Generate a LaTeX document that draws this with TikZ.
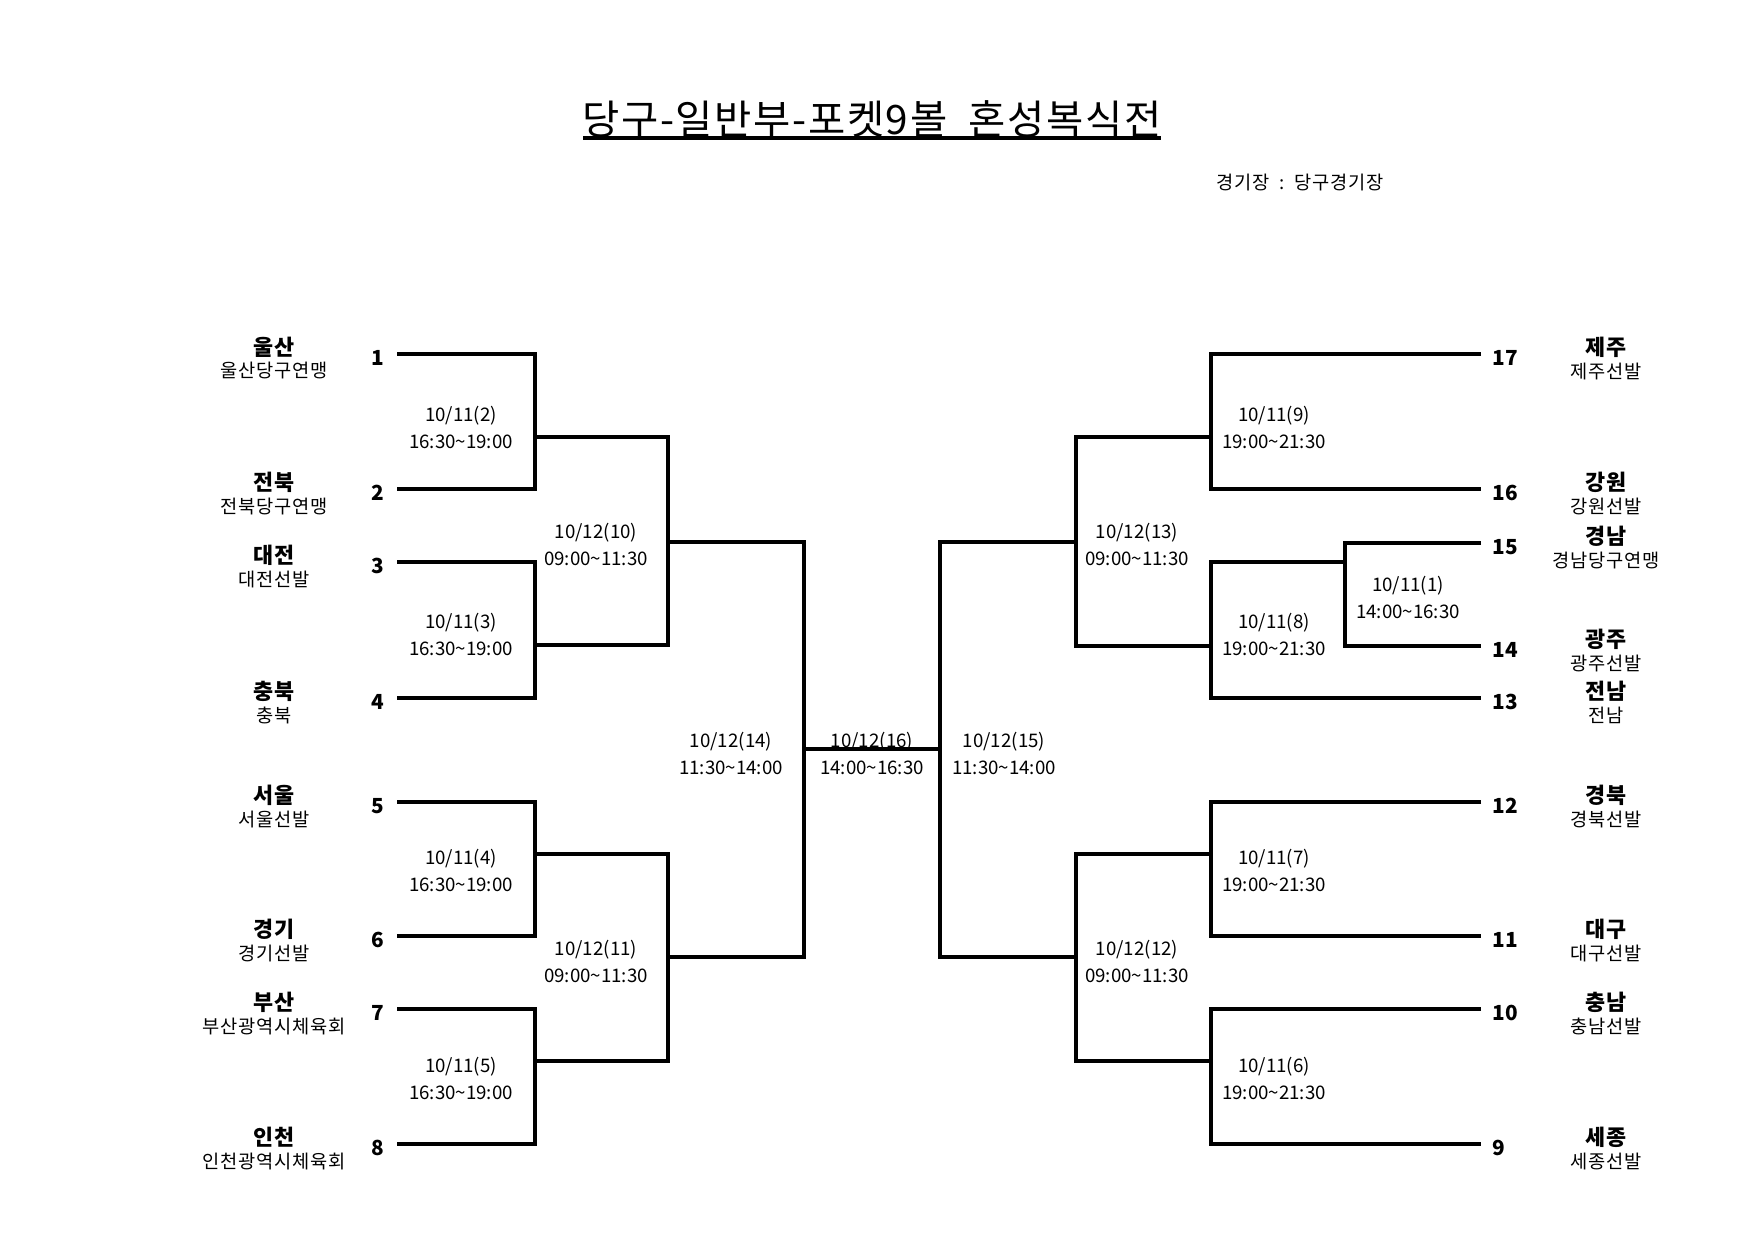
\documentclass[tikz,border=0pt]{standalone}
\usepackage{fontspec}
\setmainfont{Noto Sans CJK KR}
\newfontfamily\widefont[LetterSpace=4]{Noto Sans CJK KR}
\newcommand{\til}{\textasciitilde}

\begin{document}
\begin{tikzpicture}[x=0.16923mm,y=-0.16923mm,
  bar/.style={line width=2.1pt},
  team/.style={font=\fontsize{10.5}{12}\selectfont\bfseries},
  club/.style={font=\widefont\fontsize{9}{11}\selectfont},
  seed/.style={font=\fontsize{10}{12}\selectfont\bfseries,inner sep=0pt},
  game/.style={font=\fontsize{9}{13}\selectfont,align=center}]
  \useasboundingbox (0,0) rectangle (1755,1240);

  \node[font=\widefont\fontsize{19.5}{21}\selectfont] (title) at (872,119) {당구-일반부-포켓9볼\ \ 혼성복식전};
  \draw[line width=2pt] (583,138) -- (1161,138);
  \node[anchor=west,font=\widefont\fontsize{9}{11}\selectfont] (venue) at (1209,183) {경기장\ \ :\ \ 당구경기장};

  \foreach \n/\y/\nm/\cl in {
    1/354/울산/울산당구연맹,
    2/489/전북/전북당구연맹,
    3/562/대전/대전선발,
    4/698/충북/충북,
    5/802/서울/서울선발,
    6/936/경기/경기선발,
    7/1009/부산/부산광역시체육회,
    8/1144/인천/인천광역시체육회}
  {
    \coordinate (e\n) at (397,\y);
    \node[seed,anchor=east] (s\n) at (385,\y+4) {\n};
    \node[team] (t\n) at (274,\y-7) {\nm};
    \node[club] (c\n) at (274,\y+17) {\cl};
  }

  \foreach \n/\y/\nm/\cl in {
    17/354/제주/제주선발,
    16/489/강원/강원선발,
    15/543/경남/경남당구연맹,
    14/646/광주/광주선발,
    13/698/전남/전남,
    12/802/경북/경북선발,
    11/936/대구/대구선발,
    10/1009/충남/충남선발,
    9/1144/세종/세종선발}
  {
    \coordinate (e\n) at (1481,\y);
    \node[seed,anchor=west] (s\n) at (1492,\y+4) {\n};
    \node[team] (t\n) at (1606,\y-7) {\nm};
    \node[club] (c\n) at (1606,\y+17) {\cl};
  }

  \foreach \m/\x/\y in {2/535/437, 3/535/645, 4/535/854, 5/535/1061,
    10/668/542, 11/668/957, 14/804/749, 15/940/749,
    13/1076/542, 12/1076/957, 9/1211/437, 8/1211/646,
    7/1211/854, 6/1211/1061, 1/1345/562}
    \coordinate (m\m) at (\x,\y);

  \draw[bar] (e1) -| (m2) |- (e2);
  \draw[bar] (e3) -| (m3) |- (e4);
  \draw[bar] (e5) -| (m4) |- (e6);
  \draw[bar] (e7) -| (m5) |- (e8);
  \draw[bar] (m2) -| (m10) |- (m3);
  \draw[bar] (m4) -| (m11) |- (m5);
  \draw[bar] (m10) -| (m14) |- (m11);
  \draw[bar] (m14) -- (m15);
  \draw[bar] (m13) -| (m15) |- (m12);
  \draw[bar] (m9) -| (m13) |- (m8);
  \draw[bar] (m7) -| (m12) |- (m6);
  \draw[bar] (e17) -| (m9) |- (e16);
  \draw[bar] (e15) -| (m1) |- (e14);
  \draw[bar] (m1) -| (m8) |- (e13);
  \draw[bar] (e12) -| (m7) |- (e11);
  \draw[bar] (e10) -| (m6) |- (e9);

  \foreach \g/\x/\y/\dt/\tm in {
    2/461/427/{10/11(2)}/{16:30\til19:00},
    3/461/634/{10/11(3)}/{16:30\til19:00},
    4/461/870/{10/11(4)}/{16:30\til19:00},
    5/461/1078/{10/11(5)}/{16:30\til19:00},
    10/596/544/{10/12(10)}/{09:00\til11:30},
    11/596/961/{10/12(11)}/{09:00\til11:30},
    14/731/753/{10/12(14)}/{11:30\til14:00},
    16/872/753/{10/12(16)}/{14:00\til16:30},
    15/1004/753/{10/12(15)}/{11:30\til14:00},
    13/1137/544/{10/12(13)}/{09:00\til11:30},
    12/1137/961/{10/12(12)}/{09:00\til11:30},
    9/1274/427/{10/11(9)}/{19:00\til21:30},
    8/1274/634/{10/11(8)}/{19:00\til21:30},
    1/1408/597/{10/11(1)}/{14:00\til16:30},
    7/1274/870/{10/11(7)}/{19:00\til21:30},
    6/1274/1078/{10/11(6)}/{19:00\til21:30}}
    \node[game] (g\g) at (\x,\y) {\dt\\\tm};
\end{tikzpicture}
\end{document}
